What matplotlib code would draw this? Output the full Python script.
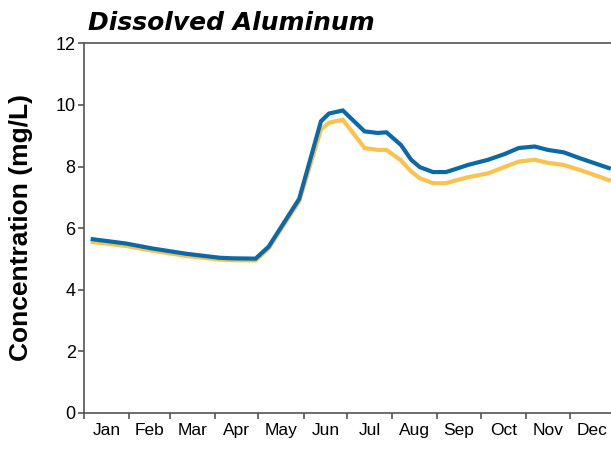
import matplotlib
matplotlib.use("Agg")
import matplotlib.pyplot as plt
from matplotlib import font_manager
from matplotlib.ticker import FixedLocator, NullFormatter

# dados (dia do ano, mg/L)
dias = [6, 29, 47, 70, 93, 102, 118, 127, 148, 163, 168.5, 178, 193, 202, 208,
        218, 225, 231, 240, 249, 255, 264, 278, 289, 299, 310, 319, 330, 341, 361]
azul = [5.64, 5.50, 5.34, 5.17, 5.04, 5.02, 5.01, 5.40, 6.95, 9.47, 9.72, 9.82,
        9.14, 9.09, 9.11, 8.70, 8.22, 7.98, 7.82, 7.82, 7.91, 8.05, 8.22, 8.40,
        8.60, 8.65, 8.54, 8.46, 8.27, 7.95]
amarelo = [5.55, 5.42, 5.27, 5.10, 4.98, 4.96, 4.95, 5.34, 6.87, 9.20, 9.42,
           9.52, 8.60, 8.54, 8.54, 8.20, 7.84, 7.62, 7.46, 7.46, 7.54, 7.65,
           7.78, 7.98, 8.16, 8.22, 8.12, 8.05, 7.89, 7.56]

meses = ["Jan", "Feb", "Mar", "Apr", "May", "Jun",
         "Jul", "Aug", "Sep", "Oct", "Nov", "Dec"]
limites = [0, 31, 59, 90, 120, 151, 181, 212, 243, 273, 304, 334, 365]
y_ticks = [0, 2, 4, 6, 8, 10, 12]

plt.rcParams["font.family"] = ["Liberation Sans", "DejaVu Sans"]

# fonte estreita para os meses, se existir
try:
    arq = font_manager.findfont("Liberation Sans Narrow", fallback_to_default=False)
    tem_narrow = "Narrow" in arq
except Exception:
    tem_narrow = False
if tem_narrow:
    fonte_mes, tam_mes = ["Liberation Sans Narrow"], 15
else:
    fonte_mes, tam_mes = ["Liberation Sans"], 12.5

fig = plt.figure(figsize=(6.11, 4.49), dpi=100)
ax = fig.add_axes([0.1375, 0.0802, 0.8685, 0.8234])

ax.plot(dias, amarelo, color="#fbc34e", lw=3.0, solid_joinstyle="miter")
ax.plot(dias, azul, color="#0b69a6", lw=3.0, solid_joinstyle="miter")

ax.set_xlim(0, 365)
ax.set_ylim(0, 12)
ax.set_yticks(y_ticks)

# ticks nas divisas dos meses, rotulos no meio
ax.xaxis.set_major_locator(FixedLocator(limites))
ax.xaxis.set_major_formatter(NullFormatter())
centros = [(limites[i] + limites[i + 1]) / 2 for i in range(12)]
ax.set_xticks(centros, minor=True)
ax.set_xticklabels(meses, minor=True, family=fonte_mes, fontsize=tam_mes)
ax.tick_params(axis="x", which="minor", length=0, pad=7)
ax.tick_params(axis="x", which="major", length=4.5, width=1.2, color="#555555")
ax.tick_params(axis="y", length=4.5, width=1.2, color="#555555", labelsize=13, pad=1.5)

for lado in ["left", "bottom", "top"]:
    ax.spines[lado].set_color("#555555")
    ax.spines[lado].set_linewidth(1.2)
ax.spines["right"].set_visible(False)

fig.text(21 / 611, 0.4933, "Concentration (mg/L)", fontsize=19, fontweight="bold",
         rotation=90, ha="center", va="center")
fig.text(0.144, 0.933, "Dissolved Aluminum", fontsize=18, fontweight="bold",
         fontstyle="italic", family=["DejaVu Sans"], ha="left", va="baseline")

fig.savefig("out.png", dpi=100)
